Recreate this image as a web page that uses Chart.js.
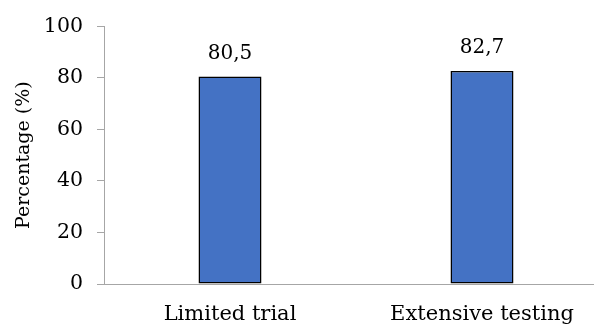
<!DOCTYPE html>
<html>
<head>
<meta charset="utf-8">
<script src="https://cdn.jsdelivr.net/npm/chart.js@4/dist/chart.umd.min.js"></script>
<style>
  html, body { margin: 0; padding: 0; background: #fff; overflow: hidden; }
  #wrap { width: 612px; height: 340px; }
</style>
</head>
<body>
<div id="wrap"><canvas id="c" width="612" height="340"></canvas></div>
<script>
// Share of correct outcomes per testing approach
const categories = ['Limited trial', 'Extensive testing'];
const percentages = [80.5, 82.7];
const yTicks = [0, 20, 40, 60, 80, 100];

const FONT = 'DejaVu Serif';
const AXIS_GREY = '#a6a6a6';

Chart.defaults.font.family = FONT;
Chart.defaults.font.size = 19;
Chart.defaults.color = '#000';

// Prints each bar's value above it, with a decimal comma
const valueLabels = {
  id: 'valueLabels',
  afterDatasetsDraw(chart) {
    const ctx = chart.ctx;
    const meta = chart.getDatasetMeta(0);
    ctx.save();
    ctx.font = '20px "' + FONT + '"';
    ctx.fillStyle = '#000';
    ctx.textAlign = 'center';
    ctx.textBaseline = 'alphabetic';
    meta.data.forEach((bar, i) => {
      const txt = percentages[i].toFixed(1).replace('.', ',');
      ctx.fillText(txt, bar.x, bar.y - 18);
    });
    ctx.restore();
  }
};

new Chart(document.getElementById('c'), {
  type: 'bar',
  data: {
    labels: categories,
    datasets: [{
      data: percentages,
      backgroundColor: '#4472c4',
      borderColor: '#000000',
      borderWidth: 1.5,
      borderSkipped: false,
      barPercentage: 0.5,
      categoryPercentage: 0.5
    }]
  },
  options: {
    responsive: false,
    animation: false,
    devicePixelRatio: 1,
    layout: { padding: { top: 24, right: 4, left: 0, bottom: 0 } },
    plugins: { legend: { display: false }, tooltip: { enabled: false } },
    scales: {
      x: {
        grid: { display: true, drawOnChartArea: false, drawTicks: false },
        border: { display: true, color: AXIS_GREY, width: 1 },
        ticks: { padding: 18, maxRotation: 0, font: { size: 21 } },
        afterFit(scale) { scale.height = 340 - 284; }
      },
      y: {
        min: 0,
        max: 100,
        afterBuildTicks(scale) { scale.ticks = yTicks.map(v => ({ value: v })); },
        grid: { display: true, drawOnChartArea: false, drawTicks: true, tickLength: 7, color: AXIS_GREY },
        border: { display: true, color: AXIS_GREY, width: 1 },
        ticks: { padding: 14, font: { size: 20.5 } },
        title: {
          display: true,
          text: 'Percentage (%)',
          font: { size: 19 },
          padding: { top: 13, bottom: 0 }
        },
        afterFit(scale) { scale.width = 104; }
      }
    }
  },
  plugins: [valueLabels]
});
</script>
</body>
</html>
